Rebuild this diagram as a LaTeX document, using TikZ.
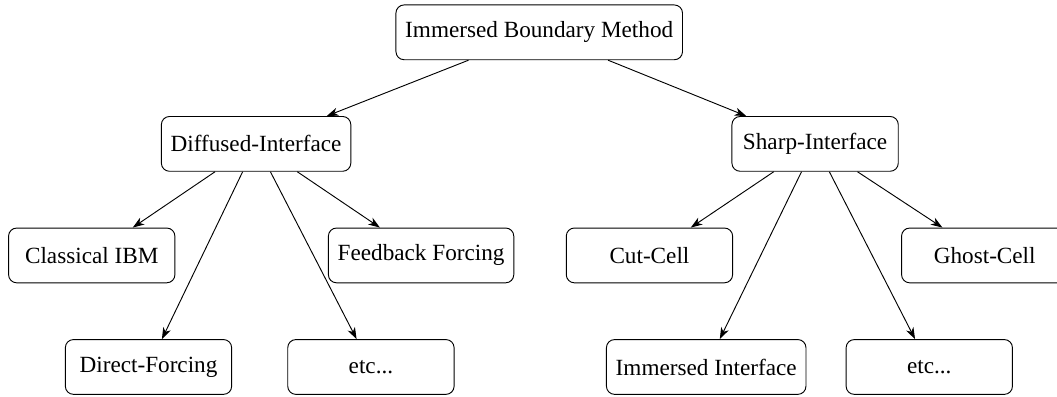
\documentclass[tikz,border=0pt]{standalone}
\usepackage{fontspec}
\setmainfont{Liberation Serif}
\usepackage{tikz}
\usetikzlibrary{positioning,arrows.meta}

\begin{document}
\begin{tikzpicture}[
            method/.style={rectangle, draw, rounded corners=3.5pt, minimum width=2.52cm, minimum height=0.83cm, inner xsep=4pt},
            link/.style={-{Stealth[length=5pt,width=3.5pt,inset=1.5pt]}},
            every node/.style={align=center}
    ]
        \useasboundingbox (0,0) rectangle (16.015,-6);

        % Root
        \node[method] (ibm) at (8.17,-0.49) {Immersed Boundary Method};

        % Two families
        \node[method] (diffused) at (3.88,-2.18) {Diffused-Interface};
        \node[method] (sharp) at (12.35,-2.18) {Sharp-Interface};

        % Diffused-interface variants
        \node[method] (classical) at (1.39,-3.87) {Classical IBM};
        \node[method] (feedback) at (6.38,-3.87) {Feedback Forcing};
        \node[method] (direct) at (2.25,-5.56) {Direct-Forcing};
        \node[method] (etc_d) at (5.62,-5.56) {etc...};

        % Sharp-interface variants
        \node[method] (cutcell) at (9.84,-3.87) {Cut-Cell};
        \node[method] (ghostcell) at (14.92,-3.87) {Ghost-Cell};
        \node[method] (immint) at (10.70,-5.56) {Immersed Interface};
        \node[method] (etc_s) at (14.08,-5.56) {etc...};

        % Arrows
        \draw[link] (ibm) -- (diffused);
        \draw[link] (ibm) -- (sharp);

        \draw[link] (diffused) -- (classical);
        \draw[link] (diffused) -- (direct);
        \draw[link] (diffused) -- (etc_d);
        \draw[link] (diffused) -- (feedback);

        \draw[link] (sharp) -- (cutcell);
        \draw[link] (sharp) -- (immint);
        \draw[link] (sharp) -- (etc_s);
        \draw[link] (sharp) -- (ghostcell);

    \end{tikzpicture}
\end{document}
